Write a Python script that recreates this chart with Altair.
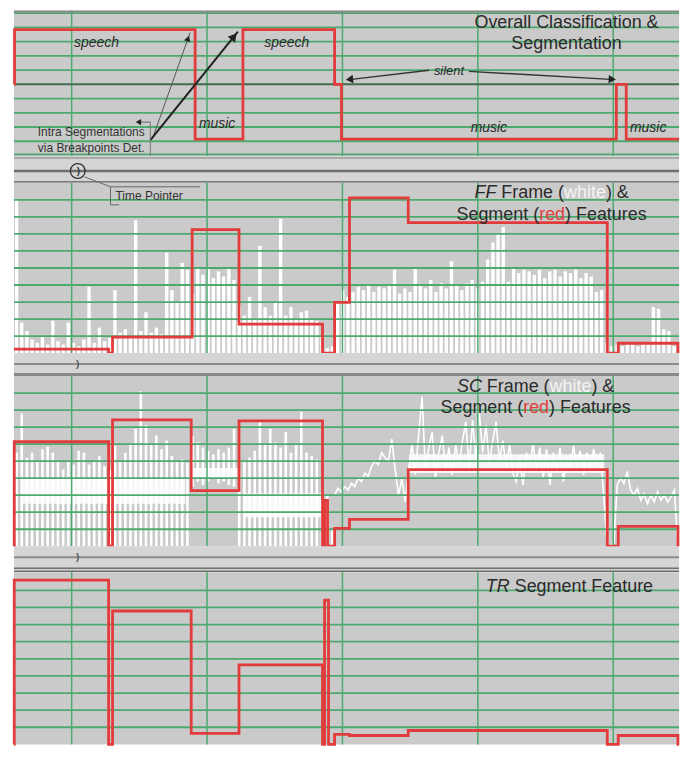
import altair as alt
import pandas as pd

FONT = "Liberation Sans"
GREEN = "#4caa6e"
RED = "#e23b3b"
PLOT_BG = "#cacaca"
SEP_BG = "#d5d5d5"
INK = "#2b2b2b"
W = 668
X_DOM = [5.74, 54.86]          # time (s)

# ---------------- data ----------------
x_grid = [10, 20, 30, 40, 50]
unit_grid = [0.1, 0.2, 0.3, 0.4, 0.5, 0.6, 0.7, 0.8, 0.9]

# Panel 1: overall classification (0 = music, 1 = silent, 2 = speech)
p1_dom = [-0.309, 2.345]
p1_grid = [2.3, 2.04, 1.78, 1.52, 1.26, 0.74, 0.48, 0.22, -0.04, -0.28]
cls_t = [5.74, 5.78, 19.12, 22.65, 29.42, 29.93, 50.23, 50.96, 54.86]
cls_v = [1, 2, 0, 2, 1, 0, 1, 0, 0]
cls_lbl = ["speech", "music", "speech", "music", "music"]
cls_lbl_t = [11.84, 20.74, 25.89, 40.81, 52.58]
cls_lbl_v = [1.745, 0.273, 1.745, 0.2, 0.2]

# Panel 2: FF
ff_seg_t = [5.74, 12.73, 13.02, 18.9, 22.36, 28.53, 29.42, 30.52, 34.86, 49.56, 50.37, 54.78, 54.86]
ff_seg_v = [0.023, 0, 0.094, 0.725, 0.17, 0, 0.298, 0.912, 0.766, 0, 0.058, 0, 0]
ff_frame = [0.9, 0.18, 0.13, 0.08, 0.06, 0.1, 0.05, 0.19, 0.07, 0.05,
            0.18, 0.06, 0.04, 0.08, 0.39, 0.06, 0.15, 0.07, 0.09, 0.37,
            0.12, 0.14, 0.1, 0.78, 0.13, 0.24, 0.12, 0.15, 0.11, 0.59,
            0.37, 0.3, 0.53, 0.49, 0.35, 0.5, 0.46, 0.5, 0.44, 0.48,
            0.45, 0.5, 0.43, 0.28, 0.22, 0.33, 0.2, 0.63, 0.27, 0.22,
            0.3, 0.79, 0.22, 0.27, 0.2, 0.24, 0.25, 0.2, 0.19, 0.1,
            0.03, 0.04, 0.3, 0.37, 0.33, 0.36, 0.39, 0.37, 0.4, 0.36,
            0.39, 0.38, 0.4, 0.49, 0.35, 0.38, 0.36, 0.5, 0.4, 0.38,
            0.43, 0.36, 0.41, 0.38, 0.54, 0.4, 0.37, 0.41, 0.43, 0.38,
            0.42, 0.55, 0.65, 0.7, 0.74, 0.42, 0.5, 0.47, 0.49, 0.48,
            0.46, 0.49, 0.44, 0.48, 0.49, 0.45, 0.48, 0.47, 0.49, 0.44,
            0.47, 0.45, 0.36, 0.37, 0.06, 0.04, 0.05, 0.04, 0.06, 0.05,
            0.04, 0.06, 0.05, 0.27, 0.26, 0.14, 0.13, 0.04, 0.03]
FRAME_T0, FRAME_DT = 5.931, 0.3824

# Panel 3: SC
sc_seg_t = [5.74, 5.76, 12.73, 13.02, 18.83, 22.36, 28.53, 28.68, 28.9, 29.42, 30.52, 34.86, 49.56, 50.37, 54.78, 54.86]
sc_seg_v = [0, 0.614, 0, 0.743, 0.327, 0.737, 0, 0.269, 0, 0.105, 0.158, 0.45, 0, 0.117, 0, 0]
sc_hi = [0.55, 0.78, 0.52, 0.55, 0.5, 0.57, 0.585, 0.55, 0.5, 0.45,
         0.5, 0.48, 0.56, 0.55, 0.48, 0.5, 0.53, 0.47, 0.45, 0.59,
         0.5, 0.55, 0.6, 0.69, 0.91, 0.71, 0.6, 0.65, 0.57, 0.62,
         0.53, 0.5, 0.51, 0.49, 0.65, 0.61, 0.58, 0.56, 0.54, 0.57,
         0.55, 0.58, 0.69, 0.45, 0.5, 0.52, 0.56, 0.73, 0.6, 0.69,
         0.61, 0.58, 0.67, 0.55, 0.6, 0.79, 0.55, 0.53, 0.51, 0.32,
         0.3, 0.1]
sc_lo = [0, 0, 0, 0, 0, 0, 0, 0, 0, 0,
         0, 0, 0, 0, 0, 0, 0, 0, 0, 0,
         0, 0, 0, 0, 0, 0, 0, 0, 0, 0,
         0, 0, 0, 0, 0.35, 0.38, 0.36, 0.38, 0.4, 0.37,
         0.38, 0.36, 0.35, 0, 0, 0, 0, 0, 0, 0,
         0, 0, 0, 0, 0, 0, 0, 0, 0, 0,
         0, 0]
sc_band_t0 = [6.25, 18.9, 22.8, 34.93]
sc_band_t1 = [18.39, 22.28, 28.46, 49.34]
sc_band_lo = [0.25, 0.40, 0.17, 0.43]
sc_band_hi = [0.40, 0.46, 0.31, 0.54]
sc_line = [0.30, 0.34, 0.32, 0.35, 0.33, 0.37, 0.35, 0.40, 0.38, 0.43,
           0.41, 0.47, 0.50, 0.48, 0.55, 0.52, 0.50, 0.63, 0.45, 0.30,
           0.40, 0.26, 0.45, 0.60, 0.42, 0.66, 0.88, 0.44, 0.58, 0.67,
           0.40, 0.55, 0.65, 0.45, 0.58, 0.42, 0.60, 0.47, 0.62, 0.73,
           0.45, 0.74, 0.50, 0.79, 0.55, 0.71, 0.48, 0.62, 0.73, 0.50,
           0.62, 0.46, 0.60, 0.43, 0.38, 0.52, 0.36, 0.55, 0.48, 0.60,
           0.45, 0.58, 0.40, 0.57, 0.36, 0.55, 0.44, 0.58, 0.38, 0.52,
           0.45, 0.59, 0.47, 0.56, 0.42, 0.55, 0.46, 0.57, 0.48, 0.55,
           0.30, 0.00, 0.00, 0.02, 0.36, 0.40, 0.37, 0.44, 0.33, 0.30,
           0.34, 0.27, 0.31, 0.25, 0.30, 0.26, 0.32, 0.27, 0.30, 0.26,
           0.29, 0.33, 0.0]
LINE_T0, LINE_DT = 29.42, 0.2485

# Panel 4: TR
tr_dom = [0, 1.006]
tr_seg_t = [5.74, 5.76, 12.73, 13.02, 18.83, 22.36, 28.53, 28.68, 28.97, 29.42, 30.52, 34.86, 49.56, 50.37, 54.78, 54.86]
tr_seg_v = [0, 0.959, 0, 0.779, 0.064, 0.465, 0, 0.843, 0, 0.058, 0.052, 0.081, 0, 0.052, 0, 0]

# annotations of panel 1
arrow_t1 = [15.96, 15.81, 36.4, 39.34, 15.81, 15.81]
arrow_v1 = [0.0, -0.018, 1.255, 1.236, 0.31, 0.31]
arrow_t2 = [18.75, 22.28, 30.67, 49.78, 15.07, 15.81]
arrow_v2 = [1.945, 1.964, 1.09, 1.09, 0.31, -0.309]
arrow_w = [1.0, 2.0, 1.5, 1.5, 1.0, 1.0]
arrow_c = ["#555555", "#222222", "#333333", "#333333", "#666666", "#777777"]
head_t = [18.6, 21.99, 30.52, 49.93, 14.93]
head_v = [1.836, 1.873, 1.09, 1.09, 0.31]
head_shape = ["triangle-up", "triangle-up", "triangle-left", "triangle-right", "triangle-left"]
head_angle = [19.5, 39, 354, 3, 0]
head_size = [45, 90, 70, 70, 40]
note_lines = ["Intra Segmentations", "via Breakpoints Det."]
note_t = [7.5, 7.5]
note_v = [0.127, -0.164]

AW = {' ': 278, '(': 333, ')': 333, '&': 667, 'F': 611, 'C': 722, 'S': 667, 'T': 611,
      'R': 722, 'O': 778, 'a': 556, 'b': 556, 'c': 500, 'd': 556, 'e': 556, 'f': 278,
      'g': 556, 'h': 556, 'i': 222, 'l': 222, 'm': 833, 'n': 556, 'o': 556, 'p': 556,
      'r': 333, 's': 500, 't': 278, 'u': 556, 'v': 500, 'w': 722, 'y': 500, 'k': 500}


def text_w(s, size):
    return sum(AW.get(c, 556) for c in s) * size / 1000.0


XS = alt.Scale(domain=X_DOM, nice=False, zero=False)


def xenc(f):
    return alt.X(f, type="quantitative", scale=XS, axis=None)


def yenc(f, dom, reverse=False):
    if reverse:
        sc = alt.Scale(domain=dom, nice=False, zero=False, reverse=True)
    else:
        sc = alt.Scale(domain=dom, nice=False, zero=False)
    return alt.Y(f, type="quantitative", scale=sc, axis=None)


def grid_layers(hvals, dom, mid=None):
    v = alt.Chart(pd.DataFrame({"g": x_grid})).mark_rule(color=GREEN, strokeWidth=1.5).encode(x=xenc("g"))
    h = alt.Chart(pd.DataFrame({"g": hvals})).mark_rule(color=GREEN, strokeWidth=1.8).encode(y=yenc("g", dom))
    out = [v, h]
    if mid is not None:
        out.append(alt.Chart(pd.DataFrame({"g": mid})).mark_rule(color="#3f6e52", strokeWidth=2).encode(y=yenc("g", dom)))
    return out


def step_line(ts, vs, dom):
    df = pd.DataFrame({"t": ts, "v": vs})
    return alt.Chart(df).mark_line(interpolate="step-after", color=RED, strokeWidth=2.8,
                                   strokeJoin="miter").encode(x=xenc("t"), y=yenc("v", dom))


def rich_line(parts, t, v, size, dom):
    total = sum(text_w(p[0], size) for p in parts)
    off = -total / 2.0
    layers = []
    for txt, style, color in parts:
        lead = len(txt) - len(txt.lstrip(" "))
        shown = txt.strip(" ")
        df = pd.DataFrame({"t": [t], "v": [v], "txt": [shown]})
        layers.append(alt.Chart(df).mark_text(align="left", baseline="middle", dx=off + text_w(" " * lead, size),
                                              fontSize=size, font=FONT, fontStyle=style, color=color)
                      .encode(x=xenc("t"), y=yenc("v", dom), text="txt:N"))
        off += text_w(txt, size)
    return layers


def panel(layers, h):
    return alt.layer(*layers).properties(width=W, height=h,
                                         view=alt.ViewBackground(fill=PLOT_BG, stroke="transparent"))


def sep(h, ys, cols, ws, mark_ys):
    dom = [0, h]
    df = pd.DataFrame({"y": ys, "c": cols, "w": ws})
    rules = alt.Chart(df).mark_rule().encode(
        y=yenc("y", dom, reverse=True),
        color=alt.Color("c:N", scale=None),
        strokeWidth=alt.StrokeWidth("w:Q", scale=None))
    layers = [rules]
    if mark_ys:
        mdf = pd.DataFrame({"t": [10.45] * len(mark_ys), "y": mark_ys, "s": [")"] * len(mark_ys)})
        layers.append(alt.Chart(mdf).mark_text(fontSize=10, fontWeight="bold", color="#555555", font=FONT,
                                               baseline="middle")
                      .encode(x=xenc("t"), y=yenc("y", dom, reverse=True), text="s:N"))
    return alt.layer(*layers).properties(width=W, height=h,
                                         view=alt.ViewBackground(fill=SEP_BG, stroke="transparent"))


# ---------------- panel 1 ----------------
p1_layers = grid_layers(p1_grid, p1_dom, mid=[1.0])
p1_layers.append(alt.Chart(pd.DataFrame({"g": [2.33]})).mark_rule(color="#8a8a8a", strokeWidth=2)
                 .encode(y=yenc("g", p1_dom)))
p1_layers.append(step_line(cls_t, cls_v, p1_dom))
lbl_df = pd.DataFrame({"t": cls_lbl_t, "v": cls_lbl_v, "s": cls_lbl})
p1_layers.append(alt.Chart(lbl_df).mark_text(fontSize=14, fontStyle="italic", font=FONT, color=INK,
                                             baseline="middle")
                 .encode(x=xenc("t"), y=yenc("v", p1_dom), text="s:N"))
p1_layers.append(alt.Chart(pd.DataFrame({"t": [37.87], "v": [1.236], "s": ["silent"]}))
                 .mark_text(fontSize=13, fontStyle="italic", font=FONT, color=INK, baseline="middle")
                 .encode(x=xenc("t"), y=yenc("v", p1_dom), text="s:N"))
adf = pd.DataFrame({"t1": arrow_t1, "v1": arrow_v1, "t2": arrow_t2, "v2": arrow_v2, "w": arrow_w, "c": arrow_c})
p1_layers.append(alt.Chart(adf).mark_rule().encode(
    x=xenc("t1"), y=yenc("v1", p1_dom), x2="t2", y2="v2",
    strokeWidth=alt.StrokeWidth("w:Q", scale=None), color=alt.Color("c:N", scale=None)))
hdf = pd.DataFrame({"t": head_t, "v": head_v, "sh": head_shape, "a": head_angle, "sz": head_size})
p1_layers.append(alt.Chart(hdf).mark_point(filled=True, color="#222222", opacity=1).encode(
    x=xenc("t"), y=yenc("v", p1_dom), shape=alt.Shape("sh:N", scale=None),
    angle=alt.Angle("a:Q", scale=None), size=alt.Size("sz:Q", scale=None)))
ndf = pd.DataFrame({"t": note_t, "v": note_v, "s": note_lines})
p1_layers.append(alt.Chart(ndf).mark_text(fontSize=12, font=FONT, color="#333333", align="left",
                                          baseline="middle")
                 .encode(x=xenc("t"), y=yenc("v", p1_dom), text="s:N"))
tdf = pd.DataFrame({"t": [46.55, 46.55], "v": [2.127, 1.727], "s": ["Overall Classification &", "Segmentation"]})
p1_layers.append(alt.Chart(tdf).mark_text(fontSize=18, font=FONT, color=INK, baseline="middle")
                 .encode(x=xenc("t"), y=yenc("v", p1_dom), text="s:N"))
p1 = panel(p1_layers, 146)

# ---------------- panel 2 ----------------
u_dom = [0, 1.0]
fdf = pd.DataFrame({"t": [FRAME_T0 + FRAME_DT * i for i in range(len(ff_frame))],
                    "v": ff_frame, "lo": [0.0] * len(ff_frame)})
p2_layers = [alt.Chart(fdf).mark_rule(color="white", strokeWidth=3.4).encode(
    x=xenc("t"), y=yenc("lo", u_dom), y2="v")]
p2_layers += grid_layers(unit_grid, u_dom)
p2_layers.append(step_line(ff_seg_t, ff_seg_v, u_dom))
p2_layers += rich_line([("FF", "italic", INK), (" Frame (", "normal", INK), ("white", "normal", "#f4f4f4"),
                        (") &", "normal", INK)], 45.45, 0.942, 18, u_dom)
p2_layers += rich_line([("Segment (", "normal", INK), ("red", "normal", "#e0403c"),
                        (") Features", "normal", INK)], 45.45, 0.813, 18, u_dom)
tp_lines = pd.DataFrame({"t1": [10.96, 12.87, 12.87, 12.87], "v1": [1.035, 0.977, 0.977, 0.871],
                         "t2": [12.87, 19.49, 12.87, 13.5], "v2": [0.977, 0.977, 0.871, 0.871]})
p2_layers.append(alt.Chart(tp_lines).mark_rule(color="#666666", strokeWidth=1).encode(
    x=xenc("t1"), y=yenc("v1", u_dom), x2="t2", y2="v2"))
p2_layers.append(alt.Chart(pd.DataFrame({"t": [10.45], "v": [1.07]})).mark_point(
    shape="circle", size=220, filled=False, color="#333333", strokeWidth=1.3, opacity=1).encode(
    x=xenc("t"), y=yenc("v", u_dom)))
p2_layers.append(alt.Chart(pd.DataFrame({"t": [10.5], "v": [1.07], "s": [")"]})).mark_text(
    fontSize=10, fontWeight="bold", color="#333333", font=FONT, baseline="middle").encode(
    x=xenc("t"), y=yenc("v", u_dom), text="s:N"))
p2_layers.append(alt.Chart(pd.DataFrame({"t": [13.24], "v": [0.924], "s": ["Time Pointer"]})).mark_text(
    fontSize=12, color="#333333", font=FONT, align="left", baseline="middle").encode(
    x=xenc("t"), y=yenc("v", u_dom), text="s:N"))
p2 = panel(p2_layers, 171)

# ---------------- panel 3 ----------------
sdf = pd.DataFrame({"t": [FRAME_T0 + FRAME_DT * i for i in range(len(sc_hi))], "hi": sc_hi, "lo": sc_lo})
bdf = pd.DataFrame({"t0": sc_band_t0, "t1": sc_band_t1, "lo": sc_band_lo, "hi": sc_band_hi})
ldf = pd.DataFrame({"t": [LINE_T0 + LINE_DT * k for k in range(len(sc_line))], "v": sc_line})
p3_layers = [
    alt.Chart(bdf).mark_rect(color="white", opacity=0.85).encode(
        x=xenc("t0"), x2="t1", y=yenc("lo", u_dom), y2="hi"),
    alt.Chart(sdf).mark_rule(color="white", strokeWidth=2.6).encode(
        x=xenc("t"), y=yenc("lo", u_dom), y2="hi"),
    alt.Chart(ldf).mark_line(color="white", strokeWidth=1.6).encode(x=xenc("t"), y=yenc("v", u_dom)),
]
p3_layers += grid_layers(unit_grid, u_dom)
p3_layers.append(step_line(sc_seg_t, sc_seg_v, u_dom))
p3_layers += rich_line([("SC", "italic", INK), (" Frame (", "normal", INK), ("white", "normal", "#f4f4f4"),
                        (") &", "normal", INK)], 44.27, 0.936, 18, u_dom)
p3_layers += rich_line([("Segment (", "normal", INK), ("red", "normal", "#e0403c"),
                        (") Features", "normal", INK)], 44.27, 0.813, 18, u_dom)
p3 = panel(p3_layers, 171)

# ---------------- panel 4 ----------------
p4_layers = grid_layers(unit_grid, tr_dom)
p4_layers.append(step_line(tr_seg_t, tr_seg_v, tr_dom))
p4_layers += rich_line([("TR", "italic", INK), (" Segment Feature", "normal", INK)], 46.77, 0.919, 18, tr_dom)
p4 = panel(p4_layers, 173)

# ---------------- separators ----------------
s1 = sep(27, [2, 15, 26], ["#9a9a9a", "#6f6f6f", "#7a7a7a"], [1.5, 2.5, 2], [])
s2 = sep(23, [11, 21, 23], ["#8c8c8c", "#6f6f6f", "#6f6f6f"], [2, 1.5, 1.5], [11])
s3 = sep(26, [11, 22, 25], ["#8c8c8c", "#6f6f6f", "#6f6f6f"], [2, 1.5, 1.5], [11])

chart = alt.vconcat(p1, s1, p2, s2, p3, s3, p4, spacing=0, bounds="flush").resolve_scale(
    x="independent", y="independent").properties(
    padding={"left": 0, "top": 0, "right": 0, "bottom": 0}, background="white").configure_view(
    strokeWidth=0)

chart.save("out.html", embed_options={"renderer": "svg", "actions": False})
